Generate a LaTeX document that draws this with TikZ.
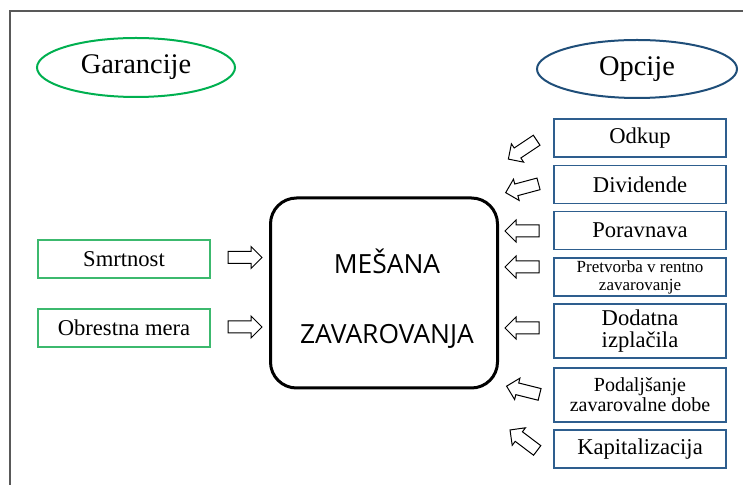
\documentclass[tikz,border=0pt]{standalone}
\usepackage{fontspec}
\setmainfont{Liberation Serif}
\newfontfamily\opensans{Open Sans}
\usetikzlibrary{shapes.geometric,shapes.arrows}
\definecolor{grn}{RGB}{0,176,80}
\definecolor{gbx}{RGB}{60,185,110}
\definecolor{blu}{RGB}{31,78,121}
\definecolor{bbx}{RGB}{46,94,142}
\begin{document}
\begin{tikzpicture}[x=.5pt, y=-.5pt,
  oval/.style={ellipse, line width=1pt, inner sep=0pt, font=\fontsize{14.2pt}{16pt}\selectfont},
  gbox/.style={draw=gbx, line width=.75pt, minimum width=86pt, minimum height=19pt, inner sep=0pt, font=\fontsize{11.3pt}{12pt}\selectfont},
  obox/.style={draw=bbx, line width=.75pt, minimum width=86pt, minimum height=19pt, inner sep=0pt, align=center, font=\fontsize{11.3pt}{11.4pt}\selectfont},
  barrow/.style={single arrow, draw, line width=.5pt, inner xsep=0pt, inner ysep=2.75pt, minimum height=17pt, minimum width=10.5pt, single arrow head extend=2.5pt}]
  \useasboundingbox (0, 0) rectangle (743, 485);
  \draw[line width=.6pt, black!65] (743, 11) -- (10, 11) -- (10, 485);
  \node[oval, draw=grn, minimum width=99pt, minimum height=29.5pt] (garancije) at (136, 67.5) {Garancije};
  \node[oval, draw=blu, minimum width=100pt, minimum height=29pt] (opcije) at (637, 69) {Opcije};
  \node[draw, line width=1.5pt, rounded corners=13pt, minimum width=113.5pt, minimum height=95pt] (mesana) at (384, 293) {};
  \node[align=center, font=\opensans\fontsize{13.2pt}{35pt}\selectfont] (mesanatext) at (387, 299) {MEŠANA\\ZAVAROVANJA};
  \node[gbox] (smrtnost) at (124, 259) {Smrtnost};
  \node[gbox] (obrestna) at (124, 328) {Obrestna mera};
  \node[barrow] (a1) at (242, 257.5) {};
  \node[barrow] (a2) at (242, 327) {};
  \node[obox] (odkup) at (640, 138) {Odkup};
  \node[obox] (dividende) at (640, 184.5) {Dividende};
  \node[obox] (poravnava) at (640, 230.5) {Poravnava};
  \node[obox, font=\fontsize{8.5pt}{9pt}\selectfont] (pretvorba) at (640, 277) {Pretvorba v rentno\\zavarovanje};
  \node[obox, minimum height=27pt] (dodatna) at (640, 331) {Dodatna\\izplačila};
  \node[obox, minimum height=27pt, font=\fontsize{10pt}{10pt}\selectfont] (podaljsanje) at (640, 395) {Podaljšanje\\zavarovalne dobe};
  \node[obox] (kapitalizacija) at (640, 449) {Kapitalizacija};
  \node[barrow, rotate=213.7] (b1) at (525, 148) {};
  \node[barrow, rotate=195] (b2) at (525, 187.5) {};
  \node[barrow, rotate=180] (b3) at (525, 231) {};
  \node[barrow, rotate=180] (b4) at (525, 267) {};
  \node[barrow, rotate=180] (b5) at (525, 328) {};
  \node[barrow, rotate=166] (b6) at (526, 391) {};
  \node[barrow, rotate=143] (b7) at (526, 442) {};
\end{tikzpicture}
\end{document}
